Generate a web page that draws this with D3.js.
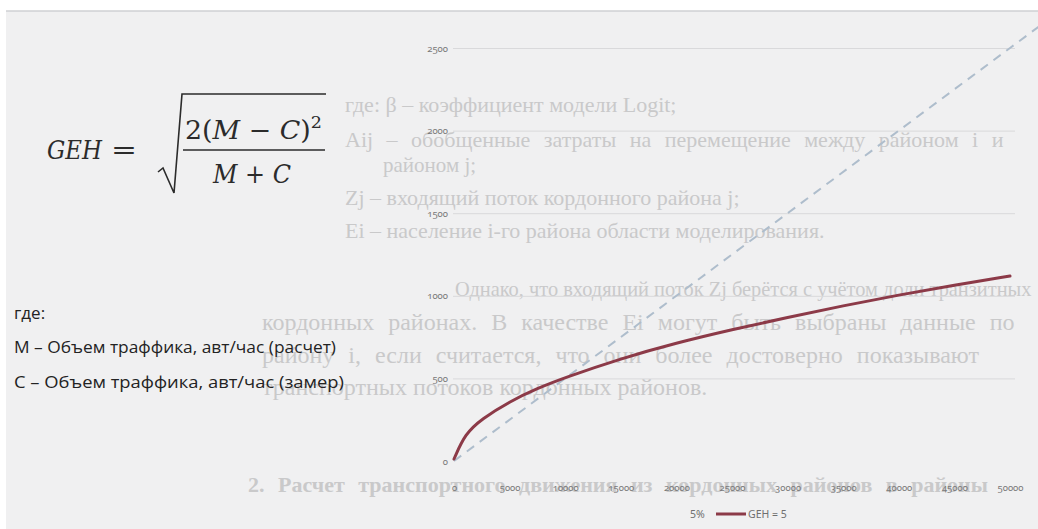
<!DOCTYPE html>
<html>
<head>
<meta charset="utf-8">
<script src="https://cdn.jsdelivr.net/npm/d3@7"></script>
<style>
  html, body { margin: 0; padding: 0; background: #ffffff; }
  svg { display: block; }
  .tick-label { font-family: "Noto Sans", "Open Sans", sans-serif; font-size: 9.5px; fill: #7a7a7a; font-variant-numeric: oldstyle-nums; }
</style>
</head>
<body>
<svg id="chart" width="1038" height="529"></svg>
<script>
// Traffic flow C (veh/h) and the allowed deviation |M - C| for GEH = 5
const flow    = [0, 1000, 2500, 5000, 7500, 10000, 15000, 20000, 25000, 30000, 35000, 40000, 45000, 50000];
const gehDev  = [12, 165, 255, 360, 440, 505, 620, 715, 795, 870, 940, 1005, 1065, 1120];
// 5 % of the flow
const pctFlow = [0, 10000, 20000, 30000, 40000, 50000, 53500];
const pctDev  = [0, 500, 1000, 1500, 2000, 2500, 2675];

const xTicks = [0, 5000, 10000, 15000, 20000, 25000, 30000, 35000, 40000, 45000, 50000];
const yTicks = [0, 500, 1000, 1500, 2000, 2500];

const seriesNames = ["5%", "GEH = 5"];

// page text printed behind the chart; justified lines are spread towards their right edge
const pageLines = [
  { t: "где: β – коэффициент модели Logit;", x: 345, y: 112, fs: 22 },
  { t: "Aij – обобщенные затраты на перемещение между районом i и", x: 345, y: 147, fs: 22, right: 1032 },
  { t: "районом j;", x: 383, y: 172, fs: 21 },
  { t: "Zj – входящий поток кордонного района j;", x: 345, y: 205, fs: 22 },
  { t: "Ei – население i-го района области моделирования.", x: 345, y: 238, fs: 22 },
  { t: "Однако, что входящий поток Zj берётся с учётом доли транзитных", x: 455, y: 296, fs: 24, right: 1032 },
  { t: "кордонных районах. В качестве Ei могут быть выбраны данные по", x: 262, y: 330, fs: 24, right: 1032 },
  { t: "району i, если считается, что они более достоверно показывают", x: 262, y: 363, fs: 24, right: 1032 },
  { t: "транспортных потоков кордонных районов.", x: 262, y: 395, fs: 24 },
  { t: "2.   Расчет транспортного движения из кордонных районов в районы", x: 248, y: 492, fs: 22, right: 1032, bold: true }
];

const svg = d3.select("#chart");
const W = 1038, H = 529;

// paper background
svg.append("rect").attr("x", 0).attr("y", 0).attr("width", W).attr("height", H).attr("fill", "#ffffff");
svg.append("rect").attr("x", 6).attr("y", 11).attr("width", W - 6).attr("height", H - 11).attr("fill", "#f0f0f1");
svg.append("line").attr("x1", 6).attr("x2", W).attr("y1", 11).attr("y2", 11)
  .attr("stroke", "#cfd0d3").attr("stroke-width", 1.5);

const ghost = svg.append("g")
  .attr("font-family", "'Liberation Serif', 'DejaVu Serif', serif")
  .attr("fill", "#c9c9ca");
pageLines.forEach(d => {
  const t = ghost.append("text")
    .attr("x", d.x).attr("y", d.y)
    .attr("font-size", d.fs)
    .attr("font-weight", d.bold ? "bold" : null)
    .text(d.t);
  if (d.right) {
    const target = d.right - d.x;
    const natural = t.node().getComputedTextLength();
    if (natural > target) {
      t.attr("font-size", d.fs * target / natural);
    } else {
      const gaps = (d.t.match(/ /g) || []).length;
      t.attr("word-spacing", Math.min(8, (target - natural) / gaps));
    }
  }
});

// scales
const x = d3.scaleLinear().domain([0, 50000]).range([454, 1010]);
const y = d3.scaleLinear().domain([0, 2500]).range([461, 48]);

// horizontal gridlines
const grid = svg.append("g").attr("transform", "translate(453,0)")
  .call(d3.axisLeft(y).tickValues(yTicks.filter(v => v > 0)).tickSize(-562).tickFormat(""));
grid.select(".domain").remove();
grid.selectAll("line").attr("stroke", "#d9d9db").attr("stroke-width", 1);

// y labels
const yAxis = svg.append("g").attr("transform", "translate(448,0)")
  .call(d3.axisLeft(y).tickValues(yTicks).tickSize(0).tickPadding(0).tickFormat(d3.format("d")));
yAxis.select(".domain").remove();
yAxis.selectAll("text").attr("class", "tick-label");

// x labels
const xAxis = svg.append("g").attr("transform", "translate(0,484)")
  .call(d3.axisBottom(x).tickValues(xTicks).tickSize(0).tickPadding(0).tickFormat(d3.format("d")));
xAxis.select(".domain").remove();
xAxis.selectAll("text").attr("class", "tick-label");

// series
svg.append("path")
  .datum(d3.zip(pctFlow, pctDev))
  .attr("d", d3.line().x(d => x(d[0])).y(d => y(d[1])))
  .attr("fill", "none").attr("stroke", "#aebdcc").attr("stroke-width", 2)
  .attr("stroke-dasharray", "9,7");
svg.append("path")
  .datum(d3.zip(flow, gehDev))
  .attr("d", d3.line().x(d => x(d[0])).y(d => y(d[1])).curve(d3.curveBasis))
  .attr("fill", "none").attr("stroke", "#8c3a48").attr("stroke-width", 3)
  .attr("stroke-linecap", "round");

// legend
const lg = svg.append("g").attr("font-family", "'Noto Sans', 'Open Sans', sans-serif")
  .attr("font-size", 10.5).attr("fill", "#6f6f6f");
lg.append("text").attr("x", 690).attr("y", 518).text(seriesNames[0]);
lg.append("line").attr("x1", 716).attr("x2", 746).attr("y1", 514).attr("y2", 514)
  .attr("stroke", "#8c3a48").attr("stroke-width", 3);
lg.append("text").attr("x", 748).attr("y", 518).text(seriesNames[1]);

// formula GEH = sqrt(2(M - C)^2 / (M + C))
const f = svg.append("g").attr("font-family", "'DejaVu Serif', 'Liberation Serif', serif")
  .attr("font-size", 26).attr("fill", "#2b2b2b");
f.append("text").attr("x", 47).attr("y", 159).attr("font-style", "italic")
  .attr("textLength", 55).attr("lengthAdjust", "spacingAndGlyphs").text("GEH");
f.append("text").attr("x", 111).attr("y", 159).attr("textLength", 26)
  .attr("lengthAdjust", "spacingAndGlyphs").text("=");
const num = f.append("text").attr("x", 185).attr("y", 139)
  .attr("textLength", 137).attr("lengthAdjust", "spacingAndGlyphs");
num.append("tspan").text("2(");
num.append("tspan").attr("font-style", "italic").text("M");
num.append("tspan").text(" − ");
num.append("tspan").attr("font-style", "italic").text("C");
num.append("tspan").text(")");
num.append("tspan").attr("font-size", 17).attr("dy", -11).text("2");
const den = f.append("text").attr("x", 213).attr("y", 183)
  .attr("textLength", 78).attr("lengthAdjust", "spacingAndGlyphs");
den.append("tspan").attr("font-style", "italic").text("M");
den.append("tspan").text(" + ");
den.append("tspan").attr("font-style", "italic").text("C");
f.append("line").attr("x1", 183).attr("x2", 325).attr("y1", 150).attr("y2", 150)
  .attr("stroke", "#2b2b2b").attr("stroke-width", 1.6);
f.append("path").attr("d", "M158,172 L163,168 L174,193 L182,94 L326,94")
  .attr("fill", "none").attr("stroke", "#2b2b2b").attr("stroke-width", 1.6)
  .attr("stroke-linejoin", "miter");

// notation
const notes = svg.append("g").attr("font-family", "'Open Sans', 'Noto Sans', sans-serif")
  .attr("font-size", 17).attr("fill", "#232323");
notes.append("text").attr("x", 14).attr("y", 319).text("где:");
notes.append("text").attr("x", 14).attr("y", 353).attr("textLength", 322)
  .attr("lengthAdjust", "spacingAndGlyphs").text("М – Объем траффика, авт/час (расчет)");
notes.append("text").attr("x", 14).attr("y", 388).attr("textLength", 330)
  .attr("lengthAdjust", "spacingAndGlyphs").text("С – Объем траффика, авт/час (замер)");
</script>
</body>
</html>
